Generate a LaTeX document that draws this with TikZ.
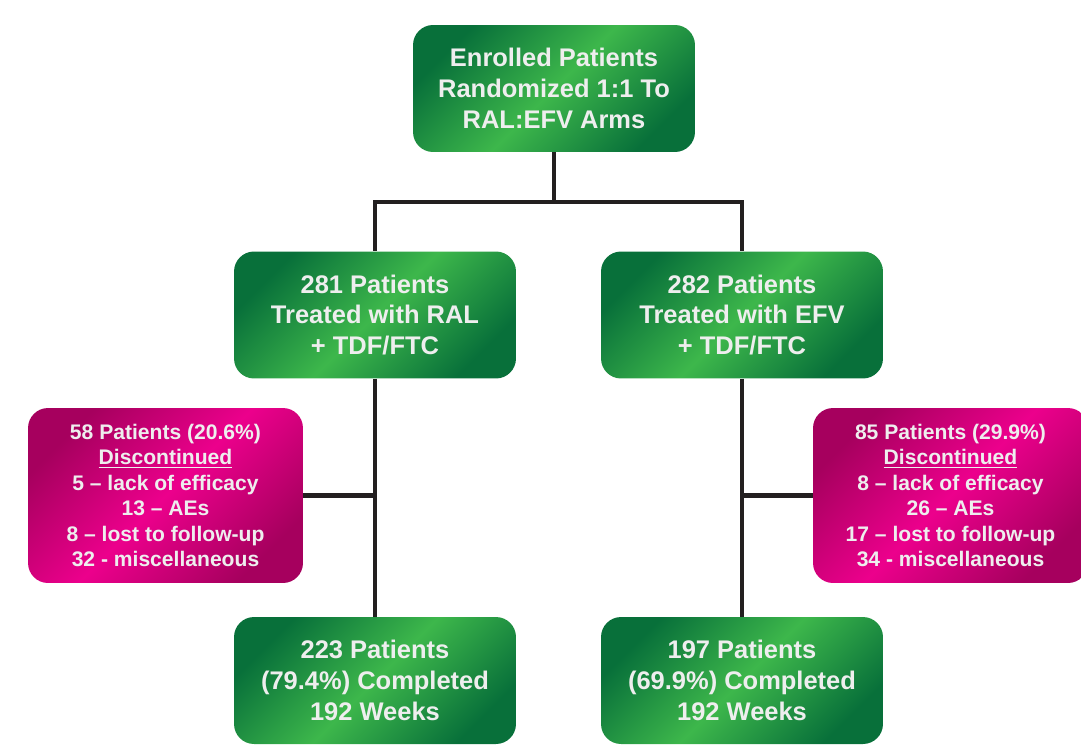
\documentclass[tikz,border=0pt]{standalone}
\usepackage{fontspec}
\setmainfont{Liberation Sans}
\usepackage{xcolor}
\usetikzlibrary{positioning,calc}

\definecolor{grnDark}{HTML}{08703A}
\definecolor{grnLight}{HTML}{3DB74B}
\definecolor{pnkDark}{HTML}{A6005E}
\definecolor{pnkLight}{HTML}{EC008C}
\definecolor{txtGrey}{HTML}{EEEEEE}
\definecolor{lineDark}{HTML}{231F20}

\tikzset{
    greenbox/.style={rounded corners=0.4cm, minimum width=5.64cm, minimum height=2.54cm,
        inner sep=0pt, align=center, text=txtGrey,
        top color=grnDark, bottom color=grnDark, middle color=grnLight, shading angle=45,
        font=\fontsize{14.5}{17.6}\selectfont\bfseries},
    pinkbox/.style={rounded corners=0.4cm, minimum width=5.5cm, minimum height=3.5cm,
        inner sep=0pt, align=center, text=txtGrey,
        top color=pnkDark, bottom color=pnkDark, middle color=pnkLight, shading angle=45,
        font=\fontsize{12}{14.5}\selectfont\bfseries},
    link/.style={draw=lineDark, line width=2.8pt}
}

\begin{document}
\begin{tikzpicture}[x=0.02cm, y=-0.02cm]
    \useasboundingbox (0,0) rectangle (1081,744);

    % Randomisation
    \node[greenbox] (enrol) at (554,88.5) {Enrolled Patients\\Randomized 1:1 To\\RAL:EFV Arms};
    \coordinate (split) at (554,202);

    % RAL arm
    \node[greenbox] (ral) at (375,315) {281 Patients\\Treated with RAL\\+ TDF/FTC};
    \node[pinkbox] (ralOff) at (165.5,495.5) {58 Patients (20.6\%)\\\underline{Discontinued}\\5 – lack of efficacy\\13 – AEs\\8 – lost to follow-up\\32 - miscellaneous};
    \node[greenbox] (ralDone) at (375,680.5) {223 Patients\\(79.4\%) Completed\\192 Weeks};

    % EFV arm
    \node[greenbox] (efv) at (742,315) {282 Patients\\Treated with EFV\\+ TDF/FTC};
    \node[pinkbox] (efvOff) at (950.5,495.5) {85 Patients (29.9\%)\\\underline{Discontinued}\\8 – lack of efficacy\\26 – AEs\\17 – lost to follow-up\\34 - miscellaneous};
    \node[greenbox] (efvDone) at (742,680.5) {197 Patients\\(69.9\%) Completed\\192 Weeks};

    % Connectors
    \draw[link] (enrol) -- (split);
    \draw[link] (split) -| (ral);
    \draw[link] (split) -| (efv);
    \draw[link] (ral) -- (ralDone);
    \draw[link] (efv) -- (efvDone);
    \draw[link] (ralOff.east) -- (ralOff.east -| ral);
    \draw[link] (efvOff.west) -- (efvOff.west -| efv);
\end{tikzpicture}
\end{document}
